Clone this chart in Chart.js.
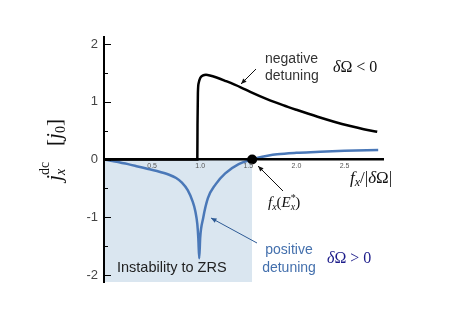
<!DOCTYPE html>
<html>
<head>
<meta charset="utf-8">
<script src="https://cdn.jsdelivr.net/npm/chart.js@4.4.1/dist/chart.umd.min.js"></script>
<style>
  html, body { margin: 0; padding: 0; background: #fff; }
  canvas { display: block; }
</style>
</head>
<body>
<canvas id="chart" width="463" height="327"></canvas>
<script>
// values (x in units of |δΩ|, y in units of j0)
const blackX = [0, 0.97, 0.972, 0.976, 0.985, 1.0, 1.03, 1.06, 1.1, 1.17, 1.27, 1.42, 1.52, 1.7, 1.86, 2.0, 2.22, 2.4, 2.56, 2.7, 2.84];
const blackY = [0, 0, 0.6, 1.15, 1.33, 1.41, 1.455, 1.465, 1.455, 1.42, 1.355, 1.25, 1.17, 1.04, 0.94, 0.86, 0.74, 0.65, 0.58, 0.525, 0.48];

const blueX = [0, 0.1, 0.25, 0.35, 0.46, 0.55, 0.67, 0.75, 0.81, 0.87, 0.92, 0.95, 0.97, 0.98, 0.99, 1.0, 1.03, 1.08, 1.16, 1.26, 1.4, 1.54, 1.6, 1.7, 1.8, 2.0, 2.2, 2.5, 2.85];
const blueY = [0, -0.03, -0.08, -0.12, -0.165, -0.2, -0.26, -0.32, -0.4, -0.53, -0.72, -0.9, -1.12, -1.35, -1.71, -1.35, -1.02, -0.67, -0.43, -0.24, -0.08, 0, 0.03, 0.065, 0.09, 0.115, 0.13, 0.15, 0.165];

const crossing = { x: 1.54, y: 0 };   // f_x(E*_x)
const xTicks = [0.5, 1.0, 1.5, 2.0, 2.5];
const yTicks = [-2, -1, 0, 1, 2];
const yMinorTicks = [-1.5, -0.5, 0.5, 1.5];
const xMax = 2.9;
const yMin = -2.12, yMax = 2.12;

const toPoints = (xs, ys) => xs.map((x, i) => ({ x, y: ys[i] }));

const sans = '"Liberation Sans", Arial, sans-serif';
const serif = '"Liberation Serif", "DejaVu Serif", serif';

// draw a run of [text, font, dy, stay] pieces, left to right
function drawRun(ctx, x, y, parts, color) {
  ctx.fillStyle = color;
  ctx.textBaseline = 'alphabetic';
  ctx.textAlign = 'left';
  parts.forEach(([t, f, dy, stay]) => {
    ctx.font = f;
    ctx.fillText(t, x, y + (dy || 0));
    if (!stay) x += ctx.measureText(t).width;
  });
}

function arrow(ctx, x0, y0, x1, y1, color) {
  const a = Math.atan2(y1 - y0, x1 - x0), h = 6;
  ctx.strokeStyle = color;
  ctx.fillStyle = color;
  ctx.lineWidth = 1;
  ctx.beginPath();
  ctx.moveTo(x0, y0);
  ctx.lineTo(x1, y1);
  ctx.stroke();
  ctx.beginPath();
  ctx.moveTo(x1, y1);
  ctx.lineTo(x1 - h * Math.cos(a - 0.4), y1 - h * Math.sin(a - 0.4));
  ctx.lineTo(x1 - h * Math.cos(a + 0.4), y1 - h * Math.sin(a + 0.4));
  ctx.closePath();
  ctx.fill();
}

const notes = {
  id: 'notes',
  afterDraw(chart) {
    const ctx = chart.ctx;
    const ys = chart.scales.y;
    const left = chart.chartArea.left;
    ctx.save();

    // inward tick marks on the y axis
    ctx.strokeStyle = '#000';
    ctx.lineWidth = 1;
    yTicks.forEach(v => {
      const p = Math.round(ys.getPixelForValue(v)) + 0.5;
      ctx.beginPath(); ctx.moveTo(left, p); ctx.lineTo(left + 7, p); ctx.stroke();
    });
    yMinorTicks.forEach(v => {
      const p = Math.round(ys.getPixelForValue(v)) + 0.5;
      ctx.beginPath(); ctx.moveTo(left, p); ctx.lineTo(left + 4, p); ctx.stroke();
    });

    // y axis title, rotated
    ctx.save();
    ctx.translate(61, 181);
    ctx.rotate(-Math.PI / 2);
    drawRun(ctx, 0, 0, [
      ['j', 'italic 22px ' + serif],
      ['x', 'italic 14px ' + serif, 4, true],
      ['dc', '14px ' + serif, -12],
      ['   [', '21px ' + serif],
      ['j', 'italic 21px ' + serif],
      ['0', '14px ' + serif, 4],
      [']', '21px ' + serif]
    ], '#111');
    ctx.restore();

    // annotations
    drawRun(ctx, 265, 63, [['negative', '14px ' + sans]], '#333');
    drawRun(ctx, 265, 80, [['detuning', '14px ' + sans]], '#333');
    drawRun(ctx, 333, 72, [['δ', 'italic 16px ' + serif], ['Ω < 0', '16px ' + serif]], '#111');
    arrow(ctx, 256, 69, 241, 84, '#111');

    drawRun(ctx, 350, 183, [
      ['f', 'italic 17px ' + serif], ['x', 'italic 12px ' + serif, 3],
      ['/|', '17px ' + serif], ['δ', 'italic 17px ' + serif], ['Ω|', '17px ' + serif]
    ], '#111');

    drawRun(ctx, 268, 207, [
      ['f', 'italic 15px ' + serif], ['x', 'italic 10px ' + serif, 3],
      ['(', '15px ' + serif], ['E', 'italic 15px ' + serif], ['*', '10px ' + serif, -6, true],
      ['x', 'italic 10px ' + serif, 3], [')', '15px ' + serif]
    ], '#111');
    arrow(ctx, 283, 191, 258, 166, '#111');

    ctx.font = '14px ' + sans;
    const pw = ctx.measureText('positive').width, dw = ctx.measureText('detuning').width;
    drawRun(ctx, 289 - pw / 2, 254, [['positive', '14px ' + sans]], '#4470ad');
    drawRun(ctx, 289 - dw / 2, 272, [['detuning', '14px ' + sans]], '#4470ad');
    drawRun(ctx, 327, 263, [['δ', 'italic 16px ' + serif], ['Ω > 0', '16px ' + serif]], '#1c1c8a');
    arrow(ctx, 257, 243, 211, 218, '#2d5a95');

    drawRun(ctx, 117, 272, [['Instability to ZRS', '14.5px ' + sans]], '#222');

    ctx.restore();
  }
};

new Chart(document.getElementById('chart'), {
  type: 'scatter',
  data: {
    datasets: [
      {
        data: [crossing],
        pointRadius: 5,
        pointBackgroundColor: '#000',
        pointBorderWidth: 0,
        showLine: false,
        order: 0
      },
      {
        data: toPoints(blackX, blackY),
        showLine: true,
        borderColor: '#000',
        borderWidth: 2.5,
        pointRadius: 0,
        cubicInterpolationMode: 'monotone',
        order: 1
      },
      {
        data: toPoints(blueX, blueY),
        showLine: true,
        borderColor: '#4a78b8',
        borderWidth: 2.5,
        pointRadius: 0,
        cubicInterpolationMode: 'monotone',
        order: 2
      },
      {
        // instability region, from 0 up to the crossing point
        data: [{ x: 0, y: yMin }, { x: crossing.x, y: yMin }],
        showLine: true,
        borderWidth: 0,
        borderColor: 'rgba(0,0,0,0)',
        backgroundColor: '#dae6f0',
        fill: 'origin',
        pointRadius: 0,
        order: 3
      }
    ]
  },
  options: {
    responsive: false,
    animation: false,
    layout: { padding: { left: 74, right: 80, top: 37, bottom: 45 } },
    plugins: { legend: { display: false }, tooltip: { enabled: false } },
    scales: {
      x: {
        type: 'linear',
        position: { y: 0 },
        min: 0,
        max: xMax,
        afterBuildTicks: s => { s.ticks = xTicks.map(v => ({ value: v })); },
        ticks: {
          callback: v => v.toFixed(1),
          font: { family: sans, size: 7 },
          color: '#555',
          padding: 2,
          maxRotation: 0,
          autoSkip: false,
          z: 1
        },
        grid: { display: true, drawOnChartArea: false, drawTicks: false },
        border: { display: true, color: '#000', width: 2.5, z: 1 }
      },
      y: {
        type: 'linear',
        position: 'left',
        min: yMin,
        max: yMax,
        afterBuildTicks: s => { s.ticks = yTicks.map(v => ({ value: v })); },
        afterFit: s => { s.width = 30; },
        ticks: {
          font: { family: sans, size: 13 },
          color: '#444',
          padding: 6,
          z: 1
        },
        grid: { display: true, drawOnChartArea: false, drawTicks: false },
        border: { display: true, color: '#000', width: 2, z: 1 }
      }
    }
  },
  plugins: [notes]
});
</script>
</body>
</html>
